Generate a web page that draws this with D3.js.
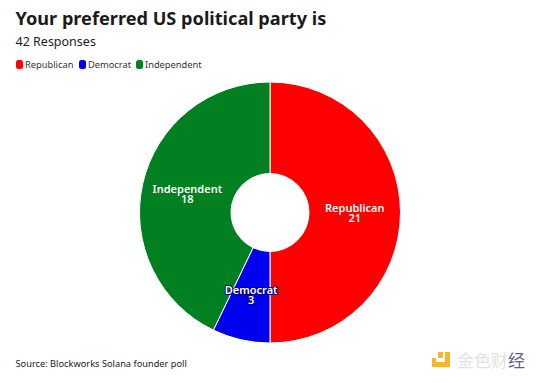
<!DOCTYPE html>
<html>
<head>
<meta charset="utf-8">
<script src="https://cdn.jsdelivr.net/npm/d3@7"></script>
<style>
  html, body { margin: 0; padding: 0; background: #fff; }
  text { font-family: "Noto Sans", "Open Sans", sans-serif; }
</style>
</head>
<body>
<div id="wrapper"></div>
<script>
const parties = ["Republican", "Democrat", "Independent"]
const responses = [21, 3, 18]
const partyColors = ["#ff0000", "#0000ee", "#008020"]
const haloColors = ["#ff0000", "#000088", "#008020"]

const titleText = "Your preferred US political party is"
const subtitleText = "42 Responses"
const sourceText = "Source: Blockworks Solana founder poll"
const watermarkText = "金色财"
const watermarkLast = "经"

function drawChart() {
  const dimensions = {
    width: 536,
    height: 383,
    centerX: 270,
    centerY: 212.5,
    outerRadius: 130.5,
    innerRadius: 39,
  }

  const wrapper = d3.select("#wrapper")
    .append("svg")
      .attr("width", dimensions.width)
      .attr("height", dimensions.height)
      .style("display", "block")

  const color = d3.scaleOrdinal().domain(parties).range(partyColors)
  const halo = d3.scaleOrdinal().domain(parties).range(haloColors)

  wrapper.append("text")
      .attr("x", 15.5)
      .attr("y", 24.5)
      .attr("font-size", 18.15)
      .attr("font-weight", 700)
      .attr("fill", "#1b1b1b")
      .text(titleText)

  wrapper.append("text")
      .attr("x", 15.5)
      .attr("y", 46)
      .attr("font-size", 12.5)
      .attr("fill", "#1b1b1b")
      .text(subtitleText)

  // legend
  const legendX = [16, 79, 136]
  const legend = wrapper.append("g")
    .selectAll("g")
    .data(parties)
    .join("g")
      .attr("transform", (d, i) => `translate(${legendX[i]}, 60)`)

  legend.append("rect")
      .attr("width", 7)
      .attr("height", 9)
      .attr("rx", 2.5)
      .attr("fill", d => color(d))

  legend.append("text")
      .attr("x", 9)
      .attr("y", 8)
      .attr("font-size", 9.3)
      .attr("fill", "#333")
      .text(d => d)

  // donut
  const pieGenerator = d3.pie().sort(null).value((d, i) => responses[i])
  const arcGenerator = d3.arc()
      .innerRadius(dimensions.innerRadius)
      .outerRadius(dimensions.outerRadius)

  const bounds = wrapper.append("g")
      .attr("transform", `translate(${dimensions.centerX}, ${dimensions.centerY})`)

  const slices = pieGenerator(parties)

  bounds.selectAll("path")
    .data(slices)
    .join("path")
      .attr("d", arcGenerator)
      .attr("fill", d => color(d.data))
      .attr("stroke", "#fff")
      .attr("stroke-width", 1)

  const labels = bounds.selectAll("text")
    .data(slices)
    .join("text")
      .attr("transform", d => `translate(${arcGenerator.centroid(d)})`)
      .attr("text-anchor", "middle")
      .attr("font-size", 11)
      .attr("font-weight", 600)
      .attr("fill", "#fff")
      .attr("stroke", d => halo(d.data))
      .attr("stroke-width", 2)
      .attr("stroke-linejoin", "round")
      .style("paint-order", "stroke")

  labels.append("tspan")
      .attr("x", 0)
      .attr("y", -1)
      .text(d => d.data)

  labels.append("tspan")
      .attr("x", 0)
      .attr("y", 9)
      .text((d, i) => responses[i])

  wrapper.append("text")
      .attr("x", 15.5)
      .attr("y", 367)
      .attr("font-size", 9.25)
      .attr("fill", "#222")
      .text(sourceText)

  // watermark
  wrapper.append("path")
      .attr("d", "M445 352h5v15h-18v-9h4v4h9zM438 352h5v6h-5z")
      .attr("fill", "#f0b72f")

  const watermark = wrapper.append("text")
      .attr("x", 457)
      .attr("y", 367)
      .attr("font-size", 17)
      .attr("fill", "#e2e2e2")
      .style("font-family", '"Noto Sans CJK SC"')

  watermark.append("tspan").text(watermarkText)
  watermark.append("tspan").attr("fill", "#6a5a90").text(watermarkLast)
}

drawChart()
</script>
</body>
</html>
